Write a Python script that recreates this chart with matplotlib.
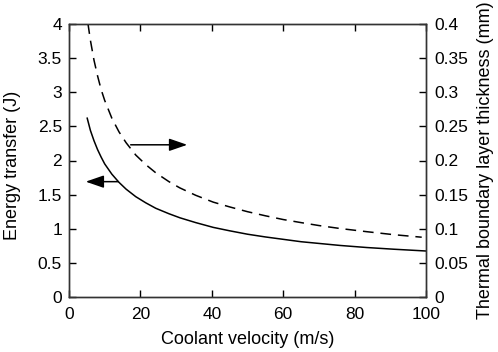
import matplotlib
matplotlib.use("Agg")
import matplotlib.pyplot as plt

plt.rcParams['font.family'] = ['Liberation Sans', 'DejaVu Sans']

velocity = [5.1, 6.0, 7.0, 8.0, 9.0, 10.0, 12.0, 14.0, 16.0, 18.7, 21.5, 24.3, 28.0, 31.1, 35.5,
            40.4, 45.0, 50.0, 55.0, 60.0, 65.0, 70.0, 76.0, 83.4, 91.0, 100.0]
energy = [2.62, 2.44, 2.29, 2.16, 2.05, 1.95, 1.80, 1.68, 1.58, 1.47, 1.38, 1.30, 1.22, 1.16, 1.09,
          1.02, 0.97, 0.92, 0.88, 0.845, 0.81, 0.785, 0.755, 0.725, 0.70, 0.674]

vel_dash = [5.3, 6.0, 7.0, 8.0, 9.0, 10.0, 12.0, 14.0, 16.0, 18.7, 21.5, 24.3, 28.0, 31.0, 35.5,
            40.4, 45.0, 50.0, 55.0, 60.0, 65.0, 70.0, 76.0, 83.4, 91.0, 98.8]
thickness = [0.401, 0.376, 0.347, 0.324, 0.304, 0.288, 0.262, 0.242, 0.226, 0.208, 0.194, 0.182,
             0.169, 0.160, 0.149, 0.139, 0.132, 0.125, 0.119, 0.1135, 0.109, 0.1047, 0.1003,
             0.0957, 0.0913, 0.0876]

xticks = [0, 20, 40, 60, 80, 100]
yticks_left = [0, 0.5, 1, 1.5, 2, 2.5, 3, 3.5, 4]
yticks_right = [0, 0.05, 0.1, 0.15, 0.2, 0.25, 0.3, 0.35, 0.4]

fig = plt.figure(figsize=(4.98, 3.52), dpi=100)
ax = fig.add_axes([69/498, 1-297/352, (426-69)/498, (297-24)/352])
ax2 = ax.twinx()

ax.plot(velocity, energy, color='black', lw=1.1)
ax2.plot(vel_dash, thickness, color='black', lw=1.1, ls=(0, (7, 4.5)))

ax.set_xlim(0, 100)
ax.set_ylim(0, 4)
ax2.set_ylim(0, 0.4)
ax.set_xticks(xticks)
ax.set_xticklabels([str(v) for v in xticks])
ax.set_yticks(yticks_left)
ax.set_yticklabels([f'{v:g}' for v in yticks_left])
ax2.set_yticks(yticks_right)
ax2.set_yticklabels([f'{v:g}' for v in yticks_right])

fs = 12.5
ax.tick_params(axis='y', direction='in', length=5, width=1, labelsize=fs, pad=5)
ax.tick_params(axis='x', direction='in', length=5, width=1, labelsize=fs, top=True, pad=7)
ax2.tick_params(axis='y', direction='in', length=5, width=1, labelsize=fs, pad=6)

for a in (ax, ax2):
    for s in a.spines.values():
        s.set_linewidth(1.0)
        s.set_color('#333333')

ax.set_xlabel('Coolant velocity (m/s)', fontsize=13, labelpad=7)
ax.set_ylabel('Energy transfer (J)', fontsize=13)
ax2.set_ylabel('Thermal boundary layer thickness (mm)', fontsize=13)
ax.yaxis.set_label_coords(-(69-21)/357, (297-165)/273)
ax2.yaxis.set_label_coords(1 + (477-426)/357, (297-160)/273)

arrowprops = dict(arrowstyle='-|>,head_length=1.1,head_width=0.38', color='black', lw=1.1)
ax.annotate('', xy=(33.9, 2.23), xytext=(16.5, 2.23), arrowprops=arrowprops)
ax.annotate('', xy=(3.9, 1.69), xytext=(14.6, 1.69), arrowprops=arrowprops)

fig.savefig('out.png', dpi=100)
